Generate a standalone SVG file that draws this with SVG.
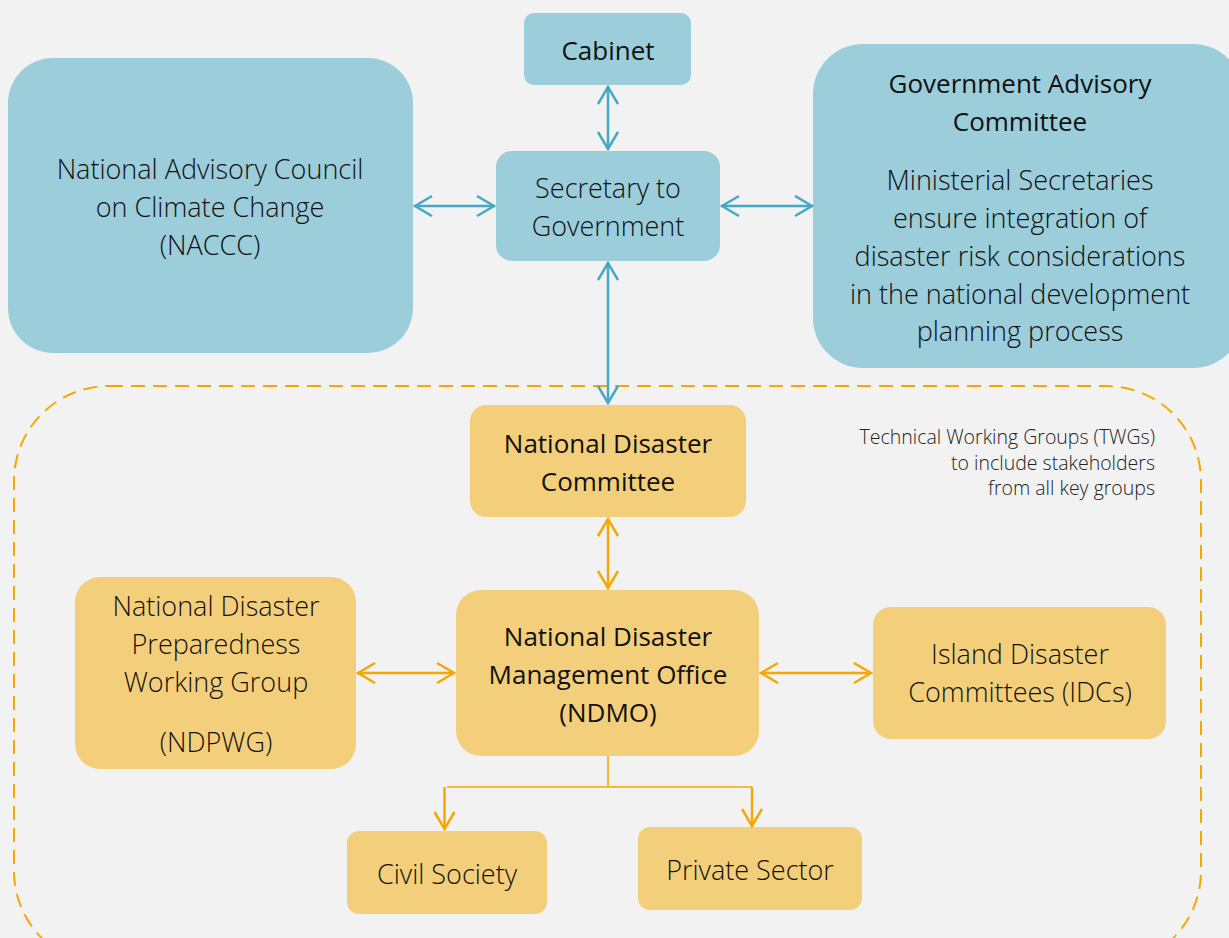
<svg xmlns="http://www.w3.org/2000/svg" width="1229" height="938" viewBox="0 0 1229 938">
<style>
.b{fill:#9bcddb}
.o{fill:#f4cf7b}
text{font-family:"Open Sans","Liberation Sans",sans-serif;fill:#111;text-anchor:middle;font-size:26px}
.l{font-weight:300;font-size:27px}
.r{font-weight:400}
.t{font-weight:300;font-size:19.5px;text-anchor:end;fill:#222}
.cb{stroke:#45a9c6;stroke-width:2.5;fill:none}
.co{stroke:#f5a800;stroke-width:2.5;fill:none}
.tree{stroke:#f5a800;stroke-width:1.6;fill:none}
</style>
<defs>
<marker id="ab" markerWidth="20" markerHeight="24" refX="18" refY="11" orient="auto-start-reverse" markerUnits="userSpaceOnUse"><path d="M1,1 L18,11 L1,21" fill="none" stroke="#45a9c6" stroke-width="2.5"/></marker>
<marker id="ao" markerWidth="20" markerHeight="24" refX="18" refY="11" orient="auto-start-reverse" markerUnits="userSpaceOnUse"><path d="M1,1 L18,11 L1,21" fill="none" stroke="#f5a800" stroke-width="2.5"/></marker>
</defs>
<rect width="1229" height="938" fill="#f2f2f2"/>
<rect x="14" y="386" width="1187" height="580" rx="95" ry="95" fill="none" stroke="#f5a800" stroke-width="2" stroke-dasharray="14,8"/>
<g id="cabinet"><rect class="b" x="524" y="13" width="167" height="72" rx="10"/><text class="r" x="608" y="60">Cabinet</text></g>
<g id="secretary"><rect class="b" x="496" y="151" width="224" height="110" rx="16"/><text class="l" x="608" y="198">Secretary to</text><text class="l" x="608" y="236">Government</text></g>
<g id="naccc"><rect class="b" x="8" y="58" width="405" height="295" rx="45"/><text class="l" x="210" y="179">National Advisory Council</text><text class="l" x="210" y="217">on Climate Change</text><text class="l" x="210" y="255">(NACCC)</text></g>
<g id="gac"><rect class="b" x="813" y="44" width="430" height="324" rx="50"/><text class="r" x="1020" y="93">Government Advisory</text><text class="r" x="1020" y="131">Committee</text><text class="l" x="1020" y="190">Ministerial Secretaries</text><text class="l" x="1020" y="228">ensure integration of</text><text class="l" x="1020" y="266">disaster risk considerations</text><text class="l" x="1020" y="304">in the national development</text><text class="l" x="1020" y="341">planning process</text></g>
<g id="ndc"><rect class="o" x="470" y="405" width="276" height="112" rx="16"/><text class="r" x="608" y="453">National Disaster</text><text class="r" x="608" y="491">Committee</text></g>
<g id="ndmo"><rect class="o" x="456" y="590" width="303" height="166" rx="25"/><text class="r" x="608" y="646">National Disaster</text><text class="r" x="608" y="684">Management Office</text><text class="r" x="608" y="722">(NDMO)</text></g>
<g id="ndpwg"><rect class="o" x="75" y="577" width="281" height="192" rx="25"/><text class="l" x="216" y="616">National Disaster</text><text class="l" x="216" y="654">Preparedness</text><text class="l" x="216" y="692">Working Group</text><text class="l" x="216" y="752">(NDPWG)</text></g>
<g id="idcs"><rect class="o" x="873" y="607" width="293" height="132" rx="18"/><text class="l" x="1020" y="664">Island Disaster</text><text class="l" x="1020" y="702">Committees (IDCs)</text></g>
<g id="civil"><rect class="o" x="347" y="831" width="200" height="83" rx="12"/><text class="l" x="447" y="884">Civil Society</text></g>
<g id="private"><rect class="o" x="638" y="827" width="224" height="83" rx="12"/><text class="l" x="750" y="880">Private Sector</text></g>
<g id="twg"><text class="t" x="1155" y="444">Technical Working Groups (TWGs)</text><text class="t" x="1155" y="470">to include stakeholders</text><text class="t" x="1155" y="495">from all key groups</text></g>
<g id="connectors">
<line class="cb" x1="608" y1="87" x2="608" y2="149" marker-start="url(#ab)" marker-end="url(#ab)"/>
<line class="cb" x1="415" y1="206" x2="494" y2="206" marker-start="url(#ab)" marker-end="url(#ab)"/>
<line class="cb" x1="722" y1="206" x2="812" y2="206" marker-start="url(#ab)" marker-end="url(#ab)"/>
<line class="cb" x1="608" y1="263" x2="608" y2="403" marker-start="url(#ab)" marker-end="url(#ab)"/>
<line class="co" x1="608" y1="519" x2="608" y2="588" marker-start="url(#ao)" marker-end="url(#ao)"/>
<line class="co" x1="358" y1="673" x2="454" y2="673" marker-start="url(#ao)" marker-end="url(#ao)"/>
<line class="co" x1="761" y1="673" x2="871" y2="673" marker-start="url(#ao)" marker-end="url(#ao)"/>
<path class="tree" d="M608,756 V787 M447,787 H752"/>
<line class="co" x1="444.5" y1="787" x2="444.5" y2="829" marker-end="url(#ao)"/>
<line class="co" x1="752" y1="787" x2="752" y2="826" marker-end="url(#ao)"/>
</g>
</svg>
